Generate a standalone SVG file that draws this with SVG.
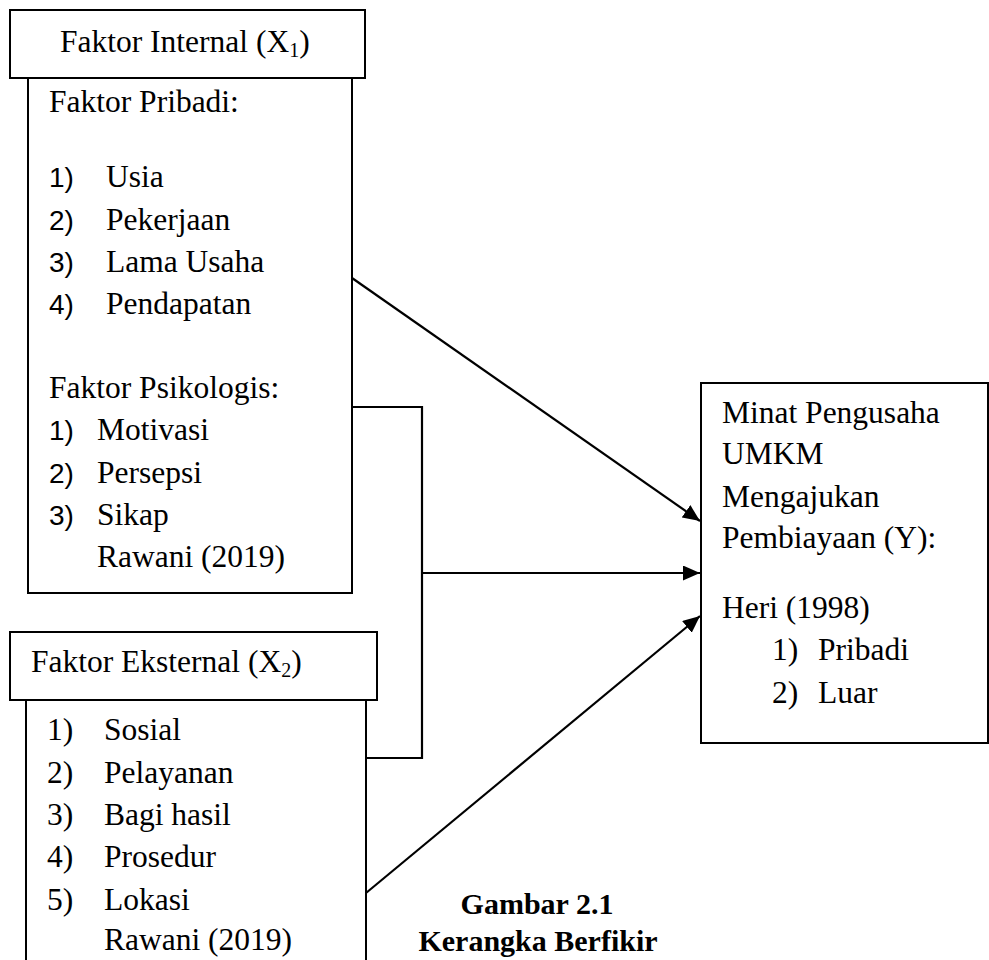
<svg xmlns="http://www.w3.org/2000/svg" width="989" height="960" viewBox="0 0 989 960">
<style>
.box{fill:#fff;stroke:#000;stroke-width:2}
.t{font-family:"Liberation Serif","Times New Roman",serif;font-size:31.5px;fill:#000}
.s{font-family:"Liberation Sans",Arial,sans-serif;font-size:28px;fill:#000}
.sub{font-size:20px}
.b{font-weight:bold;font-size:30px}
.c{fill:none;stroke:#000;stroke-width:2.2}
</style>
<defs>
<marker id="ah" markerUnits="userSpaceOnUse" markerWidth="18" markerHeight="16" refX="17" refY="7.5" orient="auto">
<path d="M0,0 L17,7.5 L0,15 z" fill="#000"/>
</marker>
</defs>
<rect width="989" height="960" fill="#fff"/>
<g id="connectors">
<line class="c" x1="352" y1="278" x2="700" y2="521" marker-end="url(#ah)"/>
<polyline class="c" points="352,407 422,407 422,758 366,758"/>
<line class="c" x1="422" y1="573" x2="700" y2="573" marker-end="url(#ah)"/>
<line class="c" x1="366" y1="893" x2="700" y2="616" marker-end="url(#ah)"/>
</g>
<g id="internal">
<rect class="box" x="28" y="78" width="324" height="515"/>
<rect class="box" x="10" y="10" width="355" height="68"/>
<text class="t" x="60" y="52">Faktor Internal (X<tspan class="sub" dy="5">1</tspan><tspan dy="-5">)</tspan></text>
<text class="t" x="49" y="112">Faktor Pribadi:</text>
<text class="s" x="49" y="187">1)</text><text class="t" x="106" y="187">Usia</text>
<text class="s" x="49" y="230">2)</text><text class="t" x="106" y="230">Pekerjaan</text>
<text class="s" x="49" y="272">3)</text><text class="t" x="106" y="272">Lama Usaha</text>
<text class="s" x="49" y="314">4)</text><text class="t" x="106" y="314">Pendapatan</text>
<text class="t" x="49" y="398">Faktor Psikologis:</text>
<text class="s" x="49" y="440">1)</text><text class="t" x="97" y="440">Motivasi</text>
<text class="s" x="49" y="483">2)</text><text class="t" x="97" y="483">Persepsi</text>
<text class="s" x="49" y="525">3)</text><text class="t" x="97" y="525">Sikap</text>
<text class="t" x="97" y="567">Rawani (2019)</text>
</g>
<g id="eksternal">
<rect class="box" x="26" y="700" width="340" height="290"/>
<rect class="box" x="10" y="632" width="367" height="68"/>
<text class="t" x="31" y="672">Faktor Eksternal (X<tspan class="sub" dy="5">2</tspan><tspan dy="-5">)</tspan></text>
<text class="t" x="47" y="740">1)</text><text class="t" x="104" y="740">Sosial</text>
<text class="t" x="47" y="783">2)</text><text class="t" x="104" y="783">Pelayanan</text>
<text class="t" x="47" y="825">3)</text><text class="t" x="104" y="825">Bagi hasil</text>
<text class="t" x="47" y="867">4)</text><text class="t" x="104" y="867">Prosedur</text>
<text class="t" x="47" y="910">5)</text><text class="t" x="104" y="910">Lokasi</text>
<text class="t" x="104" y="950">Rawani (2019)</text>
</g>
<g id="minat">
<rect class="box" x="701" y="383" width="287" height="360"/>
<text class="t" x="722" y="423">Minat Pengusaha</text>
<text class="t" x="722" y="464">UMKM</text>
<text class="t" x="722" y="507">Mengajukan</text>
<text class="t" x="722" y="548">Pembiayaan (Y):</text>
<text class="t" x="722" y="618">Heri (1998)</text>
<text class="t" x="772" y="660">1)</text><text class="t" x="818" y="660">Pribadi</text>
<text class="t" x="772" y="703">2)</text><text class="t" x="818" y="703">Luar</text>
</g>
<g id="caption">
<text class="t b" x="537" y="914" text-anchor="middle">Gambar 2.1</text>
<text class="t b" x="538" y="951" text-anchor="middle">Kerangka Berfikir</text>
</g>
</svg>
